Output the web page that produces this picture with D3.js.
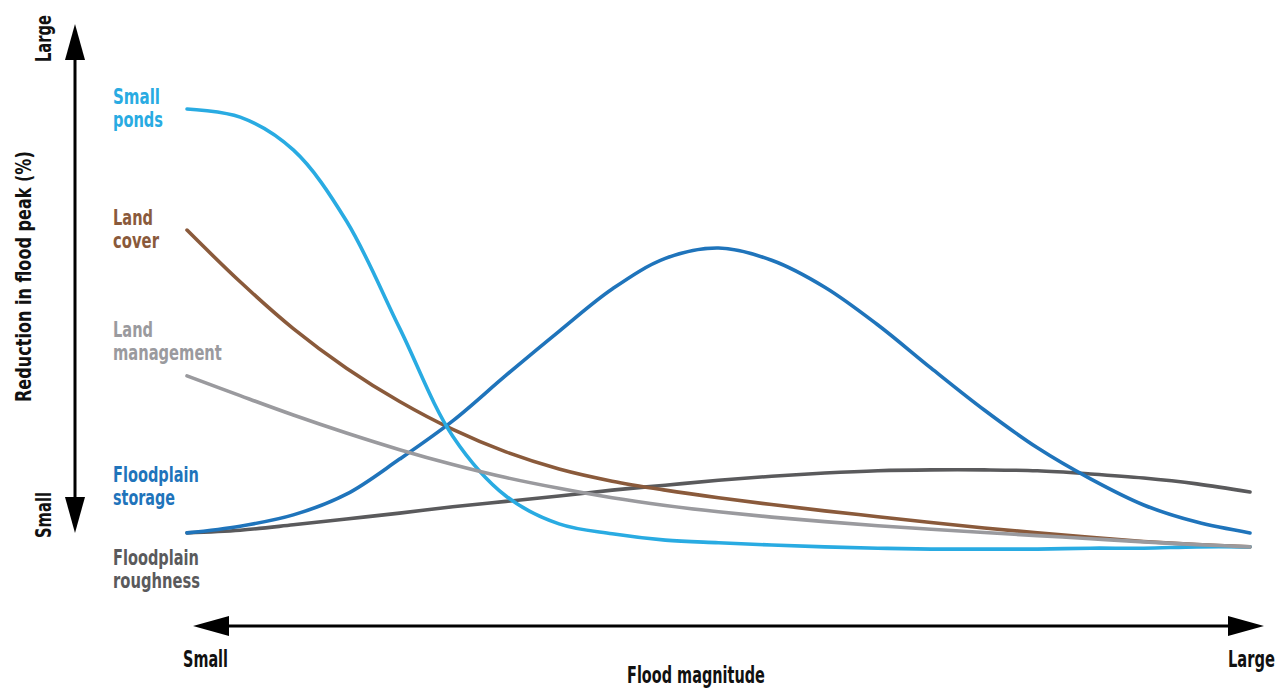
<!DOCTYPE html>
<html>
<head>
<meta charset="utf-8">
<script src="https://cdn.jsdelivr.net/npm/d3@7/dist/d3.min.js"></script>
<style>
  html, body { margin: 0; padding: 0; background: #fff; }
  svg { display: block; }
  text { font-family: "DejaVu Sans", "Roboto", sans-serif; font-weight: bold; }
</style>
</head>
<body>
<svg id="chart" width="1285" height="690"></svg>
<script>
// Flood magnitude positions (0 = small, 100 = large)
const magnitude = [0,5,10,15,20,25,30,35,40,45,50,55,60,65,70,75,80,85,90,95,100];

// Reduction in flood peak (conceptual, 0 = small, 100 = large)
const smallPonds = [98.0,96.2,88.9,73.1,49.3,25.3,12.0,5.8,3.6,2.2,1.6,1.1,0.7,0.4,0.2,0.2,0.2,0.4,0.4,0.7,0.7];
const landCover = [71.1,59.6,49.2,40.4,33.0,26.8,21.8,18.0,15.3,13.3,11.6,10.1,8.7,7.4,6.1,4.9,3.8,2.8,1.9,1.2,0.7];
const landManagement = [38.7,34.3,30.0,26.0,22.3,19.0,16.1,13.7,11.6,9.9,8.5,7.3,6.3,5.4,4.6,3.9,3.2,2.5,1.8,1.2,0.7];
const floodplainStorage = [3.8,5.3,7.8,12.4,20.2,28.7,38.8,48.6,58.0,64.8,67.1,64.4,58.4,50.0,40.4,31.1,22.7,15.8,10.0,6.2,3.8];
const floodplainRoughness = [3.8,4.4,5.6,6.9,8.2,9.6,10.8,12.0,13.3,14.4,15.5,16.4,17.1,17.6,17.8,17.8,17.6,16.9,16.0,14.7,12.9];

const seriesNames = ["Floodplain roughness","Land cover","Floodplain storage","Small ponds","Land management"];
const seriesLabels = [["Floodplain","roughness"],["Land","cover"],["Floodplain","storage"],["Small","ponds"],["Land","management"]];
const seriesColors = ["#5a5a5c","#8a5a3b","#1f74bb","#29abe2","#9a9a9e"];
const seriesData = [floodplainRoughness, landCover, floodplainStorage, smallPonds, landManagement];

const xAxisTitle = "Flood magnitude";
const yAxisTitle = "Reduction in flood peak (%)";
const endLabels = ["Small", "Large"];

// layout (pixel placement of text, widths matched to the condensed typeface)
const labelBaselines = [565, 225, 482, 104, 337];
const labelWidths = [[86, 87], [40, 46], [86, 62], [47, 50], [40, 109]];

const svg = d3.select("#chart");
const x = d3.scaleLinear().domain([0, 100]).range([187, 1250]);
const y = d3.scaleLinear().domain([0, 100]).range([550, 100]);

// arrow markers
const defs = svg.append("defs");
defs.append("marker").attr("id", "arrow")
  .attr("viewBox", "0 0 36 20").attr("refX", 0).attr("refY", 10)
  .attr("markerUnits", "userSpaceOnUse")
  .attr("markerWidth", 36).attr("markerHeight", 20).attr("orient", "auto-start-reverse")
  .append("path").attr("d", "M0,0 L36,10 L0,20 Z").attr("fill", "#000");

// vertical axis arrow
svg.append("line").attr("x1", 75).attr("x2", 75).attr("y1", 60).attr("y2", 497)
  .attr("stroke", "#000").attr("stroke-width", 3)
  .attr("marker-start", "url(#arrow)").attr("marker-end", "url(#arrow)");
// horizontal axis arrow
svg.append("line").attr("x1", 229).attr("x2", 1228).attr("y1", 626).attr("y2", 626)
  .attr("stroke", "#000").attr("stroke-width", 3)
  .attr("marker-start", "url(#arrow)").attr("marker-end", "url(#arrow)");

// condensed label: natural text horizontally scaled to the target width
function label(g, str, size, width, color) {
  const inner = g.append("g");
  const t = inner.append("text").attr("font-size", size).attr("fill", color || "#111").text(str);
  const w = t.node().getComputedTextLength();
  inner.attr("transform", `scale(${width / w},1)`);
  return t;
}

// axis labels
label(svg.append("g").attr("transform", "translate(51,62) rotate(-90)"), endLabels[1], 22, 47);
label(svg.append("g").attr("transform", "translate(51,538) rotate(-90)"), endLabels[0], 22, 46);
label(svg.append("g").attr("transform", "translate(31,402) rotate(-90)"), yAxisTitle, 22, 251);

label(svg.append("g").attr("transform", "translate(183,667)"), endLabels[0], 23, 45);
label(svg.append("g").attr("transform", "translate(1228,667)"), endLabels[1], 23, 47);
label(svg.append("g").attr("transform", "translate(627,683)"), xAxisTitle, 23, 138);

// curves
const line = d3.line().x((d, i) => x(magnitude[i])).y(d => y(d)).curve(d3.curveCatmullRom.alpha(0.5));
svg.append("g").selectAll("path").data(seriesData).join("path")
  .attr("d", d => line(d)).attr("fill", "none")
  .attr("stroke", (d, i) => seriesColors[i]).attr("stroke-width", 3.6)
  .attr("stroke-linecap", "round");

// series labels
seriesLabels.forEach((lines, i) => {
  lines.forEach((s, j) => {
    label(svg.append("g").attr("transform", `translate(113,${labelBaselines[i] + j * 23})`), s, 22, labelWidths[i][j], seriesColors[i]);
  });
});
</script>
</body>
</html>
